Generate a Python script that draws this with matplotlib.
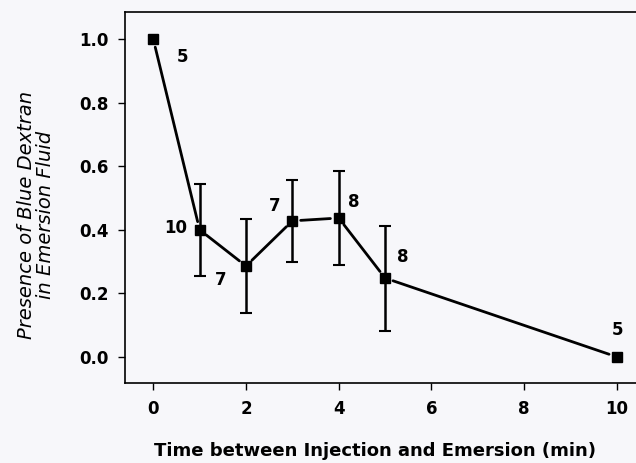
import matplotlib
matplotlib.use('Agg')
import matplotlib.pyplot as plt

# data
times = [0, 1, 2, 3, 4, 5, 10]
presence = [1.0, 0.40, 0.286, 0.428, 0.437, 0.248, 0.0]
err = [0, 0.145, 0.148, 0.129, 0.148, 0.165, 0]
counts = ['5', '10', '7', '7', '8', '8', '5']
# label offsets in points (dx, dy)
lab_off = [(21, -13), (-17, 1.5), (-18, -10), (-12.5, 11), (11, 11.5), (13, 15), (0.7, 19.4)]

bg = '#f7f7fa'
plt.rcParams['font.family'] = ['DejaVu Sans']

fig = plt.figure(figsize=(6.36, 4.63), dpi=100, facecolor=bg)
ax = fig.add_axes([0.1965, 0.1728, 0.81, 0.8012])
ax.set_facecolor(bg)

# connecting line with small gaps at the markers
for i in range(len(times) - 1):
    ax.annotate('', xy=(times[i + 1], presence[i + 1]), xytext=(times[i], presence[i]),
                arrowprops=dict(arrowstyle='-', color='black', lw=2, shrinkA=6, shrinkB=6))

eb_x = [t for t, e in zip(times, err) if e > 0]
eb_y = [p for p, e in zip(presence, err) if e > 0]
eb_e = [e for e in err if e > 0]
ax.errorbar(eb_x, eb_y, yerr=eb_e, fmt='none', ecolor='black', elinewidth=1.8,
            capsize=4, capthick=1.5)
ax.plot(times, presence, 's', color='black', markersize=7, linestyle='none')

for t, p, c, (dx, dy) in zip(times, presence, counts, lab_off):
    ax.annotate(c, (t, p), xytext=(dx, dy), textcoords='offset points',
                ha='center', va='center', fontsize=12, fontweight='bold')

ax.set_xlim(-0.61, 10.5)
ax.set_ylim(-0.082, 1.085)
ax.set_xticks([0, 2, 4, 6, 8, 10])
ax.set_yticks([0.0, 0.2, 0.4, 0.6, 0.8, 1.0])
ax.set_yticklabels(['0.0', '0.2', '0.4', '0.6', '0.8', '1.0'])
ax.tick_params(direction='out', length=5, width=1, labelsize=12, pad=7)
for lab in ax.get_xticklabels() + ax.get_yticklabels():
    lab.set_fontweight('bold')
ax.spines['right'].set_visible(False)
for s in ['left', 'bottom', 'top']:
    ax.spines[s].set_linewidth(1.2)

ax.set_xlabel('Time between Injection and Emersion (min)', fontsize=13,
              fontweight='bold')
ax.xaxis.set_label_coords(0.485, -0.158)
ax.set_ylabel('Presence of Blue Dextran\nin Emersion Fluid', fontsize=14,
              style='italic', linespacing=1.0)
ax.yaxis.set_label_coords(-0.136, 0.453)

fig.savefig('out.png', dpi=100, facecolor=bg)
